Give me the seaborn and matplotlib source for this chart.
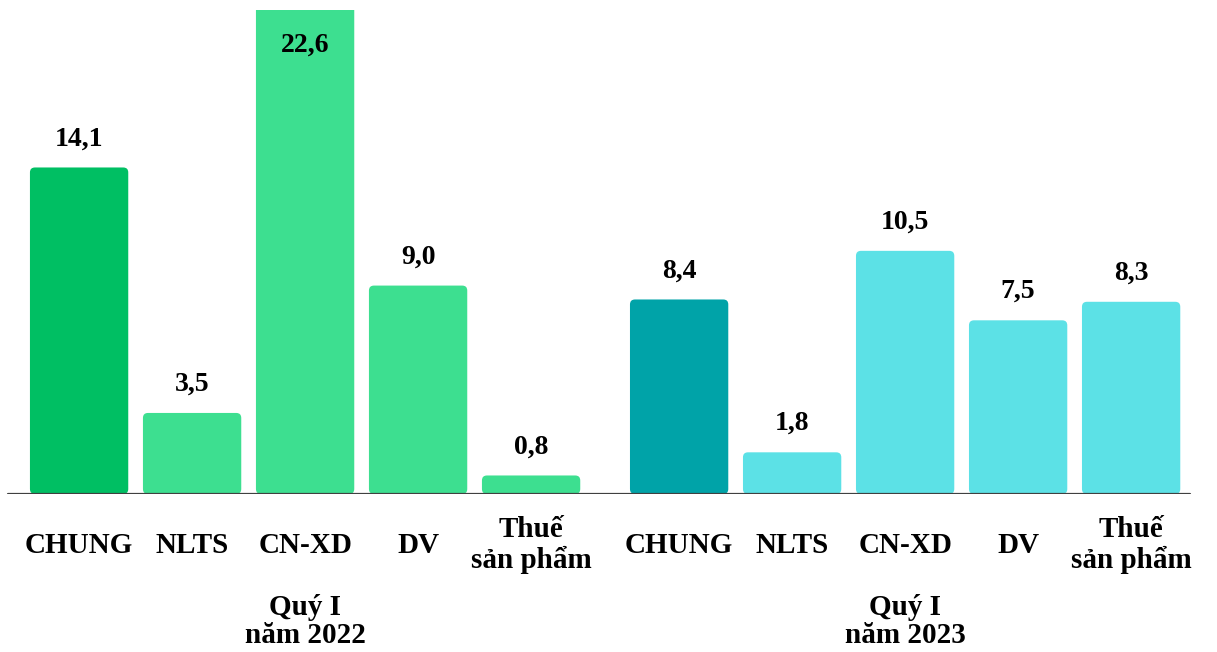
import numpy as np
import pandas as pd
import matplotlib
matplotlib.use("Agg")
import matplotlib.pyplot as plt
import seaborn as sns
from matplotlib.patches import FancyBboxPatch

#%%
# data (growth %, comma as decimal mark)
categories = ["CHUNG", "NLTS", "CN-XD", "DV", "Thuế\nsản phẩm"]
vals_2022 = [14.1, 3.5, 22.6, 9.0, 0.8]
vals_2023 = [8.4, 1.8, 10.5, 7.5, 8.3]
groups = ["Quý I\nnăm 2022", "Quý I\nnăm 2023"]

colors = {"c2022": "#00BF63", "o2022": "#3DDF90",
          "c2023": "#00A3A8", "o2023": "#5CE1E6"}

#%%
# build the long table, second group shifted a bit to leave a gap
group_gap = 0.31
rows = []
for g, (lab, vals) in enumerate(zip(["2022", "2023"], [vals_2022, vals_2023])):
    for i, (cat, v) in enumerate(zip(categories, vals)):
        kind = ("c" if i == 0 else "o") + lab
        rows.append({"pos": g * (len(categories) + group_gap) + i,
                     "cat": cat, "value": v, "kind": kind, "group": g})
df = pd.DataFrame(rows)

#%%
sns.set_theme(style="white")
plt.rcParams["font.family"] = ["Liberation Serif", "DejaVu Serif"]
plt.rcParams["font.weight"] = "bold"
plt.rcParams["text.color"] = "black"

fig = plt.figure(figsize=(12.17, 6.52), dpi=100)
ax = fig.add_axes([0, 158 / 652, 1, 484 / 652])

sns.barplot(data=df, x="pos", y="value", hue="kind", palette=colors,
            native_scale=True, dodge=False, width=0.87, saturation=1,
            legend=False, ax=ax)

ax.set_xlim(-0.70, 10.07)
ax.set_ylim(0, 20.9)
for s in ax.spines.values():
    s.set_visible(False)
ax.set_xticks([])
ax.set_yticks([])
ax.set_xlabel("")
ax.set_ylabel("")

# swap the plain rectangles for slightly rounded ones
px_x = ax.transData.transform((1, 0))[0] - ax.transData.transform((0, 0))[0]
px_y = ax.transData.transform((0, 1))[1] - ax.transData.transform((0, 0))[1]
asp = px_x / px_y
r = 5 / px_x
for p in list(ax.patches):
    x, y, w, h = p.get_x(), p.get_y(), p.get_width(), p.get_height()
    fc = p.get_facecolor()
    p.remove()
    ax.add_patch(FancyBboxPatch((x, y), w, h,
                                boxstyle=f"round,pad=0,rounding_size={r}",
                                mutation_aspect=asp, fc=fc, ec="none"))

# baseline
ax.axhline(0, xmin=8 / 1217, xmax=1190 / 1217, color="#404040", lw=1.6, zorder=5)

# value labels
top = ax.get_ylim()[1]
for _, row in df.iterrows():
    txt = f"{row['value']:.1f}".replace(".", ",")
    if row["value"] > top:
        ax.annotate(txt, (row["pos"], 1), xycoords=("data", "axes fraction"),
                    xytext=(0, -30), textcoords="offset points",
                    ha="center", va="baseline", fontsize=20, fontweight="bold",
                    color="black")
    else:
        ax.annotate(txt, (row["pos"], row["value"]),
                    xytext=(0, 16), textcoords="offset points",
                    ha="center", va="baseline", fontsize=20, fontweight="bold",
                    color="black")

# category labels under the bars
for _, row in df.iterrows():
    ax.annotate(row["cat"], (row["pos"], 0), xycoords=("data", "axes fraction"),
                xytext=(0, -37), textcoords="offset points",
                ha="center", va="center", fontsize=21, fontweight="bold",
                linespacing=1.12, color="black", annotation_clip=False)

# group labels
for g, lab in enumerate(groups):
    mid = df[df["group"] == g]["pos"].median()
    ax.annotate(lab, (mid, 0), xycoords=("data", "axes fraction"),
                xytext=(0, -92), textcoords="offset points",
                ha="center", va="center", fontsize=21, fontweight="bold",
                linespacing=1.05, color="black", annotation_clip=False)

fig.savefig("out.png", dpi=100)
